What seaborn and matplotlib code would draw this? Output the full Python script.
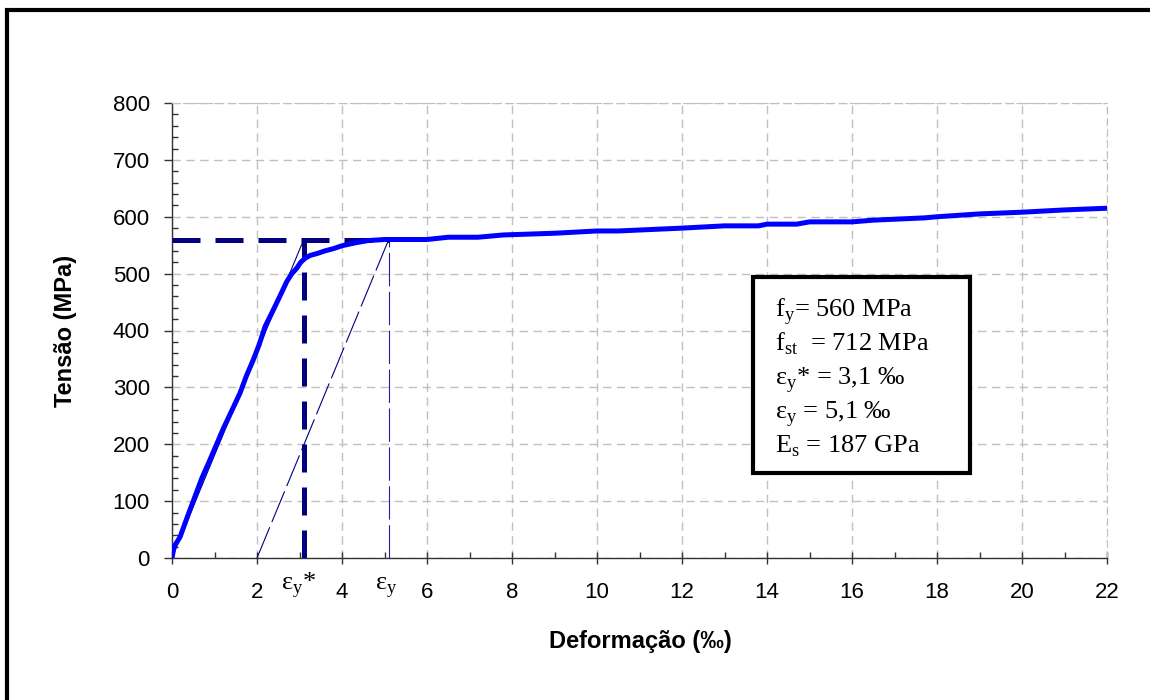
import matplotlib
matplotlib.use("Agg")
import matplotlib.pyplot as plt
import seaborn as sns
from matplotlib.patches import Rectangle

# stress-strain curve (strain in per mil, stress in MPa)
strain = [0, 0.05, 0.19, 0.35, 0.54, 0.7, 0.89, 1.05, 1.21, 1.4, 1.6, 1.75,
          1.91, 2.05, 2.19, 2.33, 2.46, 2.6, 2.7, 2.82, 2.93, 3.03, 3.13,
          3.25, 3.4, 3.6, 3.8, 4.0, 4.3, 4.6, 5.0, 6.0, 6.5, 7.2, 7.8, 9.0,
          10.0, 10.5, 12.0, 13.0, 13.8, 14.0, 14.7, 15.0, 16.0, 16.5, 17.7,
          18.0, 19.0, 20.0, 21.0, 22.0]
stress = [0, 20, 37, 70, 108, 140, 172, 200, 228, 258, 290, 320,
          348, 375, 407, 428, 448, 470, 486, 500, 509, 520, 527,
          532, 535, 540, 544, 549, 554, 558, 560, 560, 564, 564, 568, 571,
          575, 575, 580, 584, 584, 587, 587, 591, 591, 594, 598,
          600, 605, 608, 612, 615]

fy = 560
eps_y_star = 3.1
eps_y = 5.1
eps_offset = 2.0

x_ticks = list(range(0, 23, 2))
y_ticks = list(range(0, 801, 100))

box_lines = [
    "f$_\\mathregular{y}$= 560 MPa",
    "f$_\\mathregular{st}$  = 712 MPa",
    "ε$_\\mathregular{y}$* = 3,1 ‰",
    "ε$_\\mathregular{y}$ = 5,1 ‰",
    "E$_\\mathregular{s}$ = 187 GPa",
]

sns.set_style("ticks")
plt.rcParams['font.family'] = ['Liberation Sans', 'DejaVu Sans']
plt.rcParams['text.color'] = 'black'
plt.rcParams['axes.labelcolor'] = 'black'
plt.rcParams['xtick.color'] = 'black'
plt.rcParams['ytick.color'] = 'black'

fig = plt.figure(figsize=(11.5, 7), dpi=100)
ax = fig.add_axes([172 / 1150, 1 - 558 / 700, 935 / 1150, 455 / 700])

navy = '#000080'
# reference lines
ax.plot([0, eps_y_star], [0, fy], color=navy, lw=0.8, zorder=2)
ax.plot([eps_offset, eps_y], [0, fy], color=navy, lw=0.8, dashes=(30, 5), zorder=2)
ax.plot([eps_y, eps_y], [0, fy], color='#2020a0', lw=0.8, dashes=(30, 5), zorder=2)
ax.plot([0, eps_y], [fy, fy], color=navy, lw=3.6, dashes=(5.6, 3), zorder=3)
ax.plot([eps_y_star, eps_y_star], [0, fy], color=navy, lw=3.6, dashes=(5.6, 3), zorder=3)

sns.lineplot(x=strain, y=stress, color='#0000ff', lw=3.6, ax=ax, zorder=4)

ax.set_xlim(0, 22)
ax.set_ylim(0, 800)
ax.set_xticks(x_ticks)
ax.set_xticks(range(0, 23), minor=True)
ax.set_yticks(y_ticks)
ax.set_yticks(range(0, 801, 20), minor=True)

ax.grid(True, which='major', color='#c0c0c0', linestyle=(0, (6, 4)), lw=1)
ax.set_axisbelow(True)
for s in ['top', 'right']:
    ax.spines[s].set_color('#c0c0c0')
    ax.spines[s].set_linestyle((0, (6, 4)))
for s in ['left', 'bottom']:
    ax.spines[s].set_color('#333333')
    ax.spines[s].set_linewidth(1)

ax.tick_params(axis='x', which='major', direction='inout', length=9, width=1,
               labelsize=16, pad=13, color='#333333')
ax.tick_params(axis='x', which='minor', direction='in', length=4, width=1, color='#333333')
ax.tick_params(axis='y', which='major', direction='out', length=6, width=1,
               labelsize=16, pad=10, color='#333333')
ax.tick_params(axis='y', which='minor', direction='in', length=4, width=1, color='#333333')

ax.set_xlabel('Deformação (‰)', fontsize=17, fontweight='bold')
ax.set_ylabel('Tensão (MPa)', fontsize=17, fontweight='bold')
ax.xaxis.label.set_va('center')
ax.yaxis.label.set_va('center')
ax.xaxis.set_label_coords(0.5005, -0.1846)
ax.yaxis.set_label_coords(-0.1144, 0.5)

serif = ['Liberation Serif', 'DejaVu Serif']
# strain labels under the axis
ax.text(2.56, -56, "ε$_\\mathregular{y}$*", family=serif, fontsize=19,
        ha='left', va='baseline')
ax.text(4.78, -56, "ε$_\\mathregular{y}$", family=serif, fontsize=19,
        ha='left', va='baseline')

# properties box
ax.add_patch(Rectangle((0.6214, 0.1868), 0.2321, 0.4308, transform=ax.transAxes,
                       facecolor='white', edgecolor='black', lw=3, zorder=5))
for i, line in enumerate(box_lines):
    ax.text(0.645, 0.5297 - i * 0.0747, line, transform=ax.transAxes,
            family=serif, fontsize=19, ha='left', va='baseline', zorder=6)

# outer frame (cropped on the right and bottom)
fig.patches.append(Rectangle((7 / 1150, -0.5), 2, 1.5 - 10 / 700, transform=fig.transFigure,
                             fill=False, edgecolor='black', lw=3))

fig.savefig('out.png', dpi=100)
